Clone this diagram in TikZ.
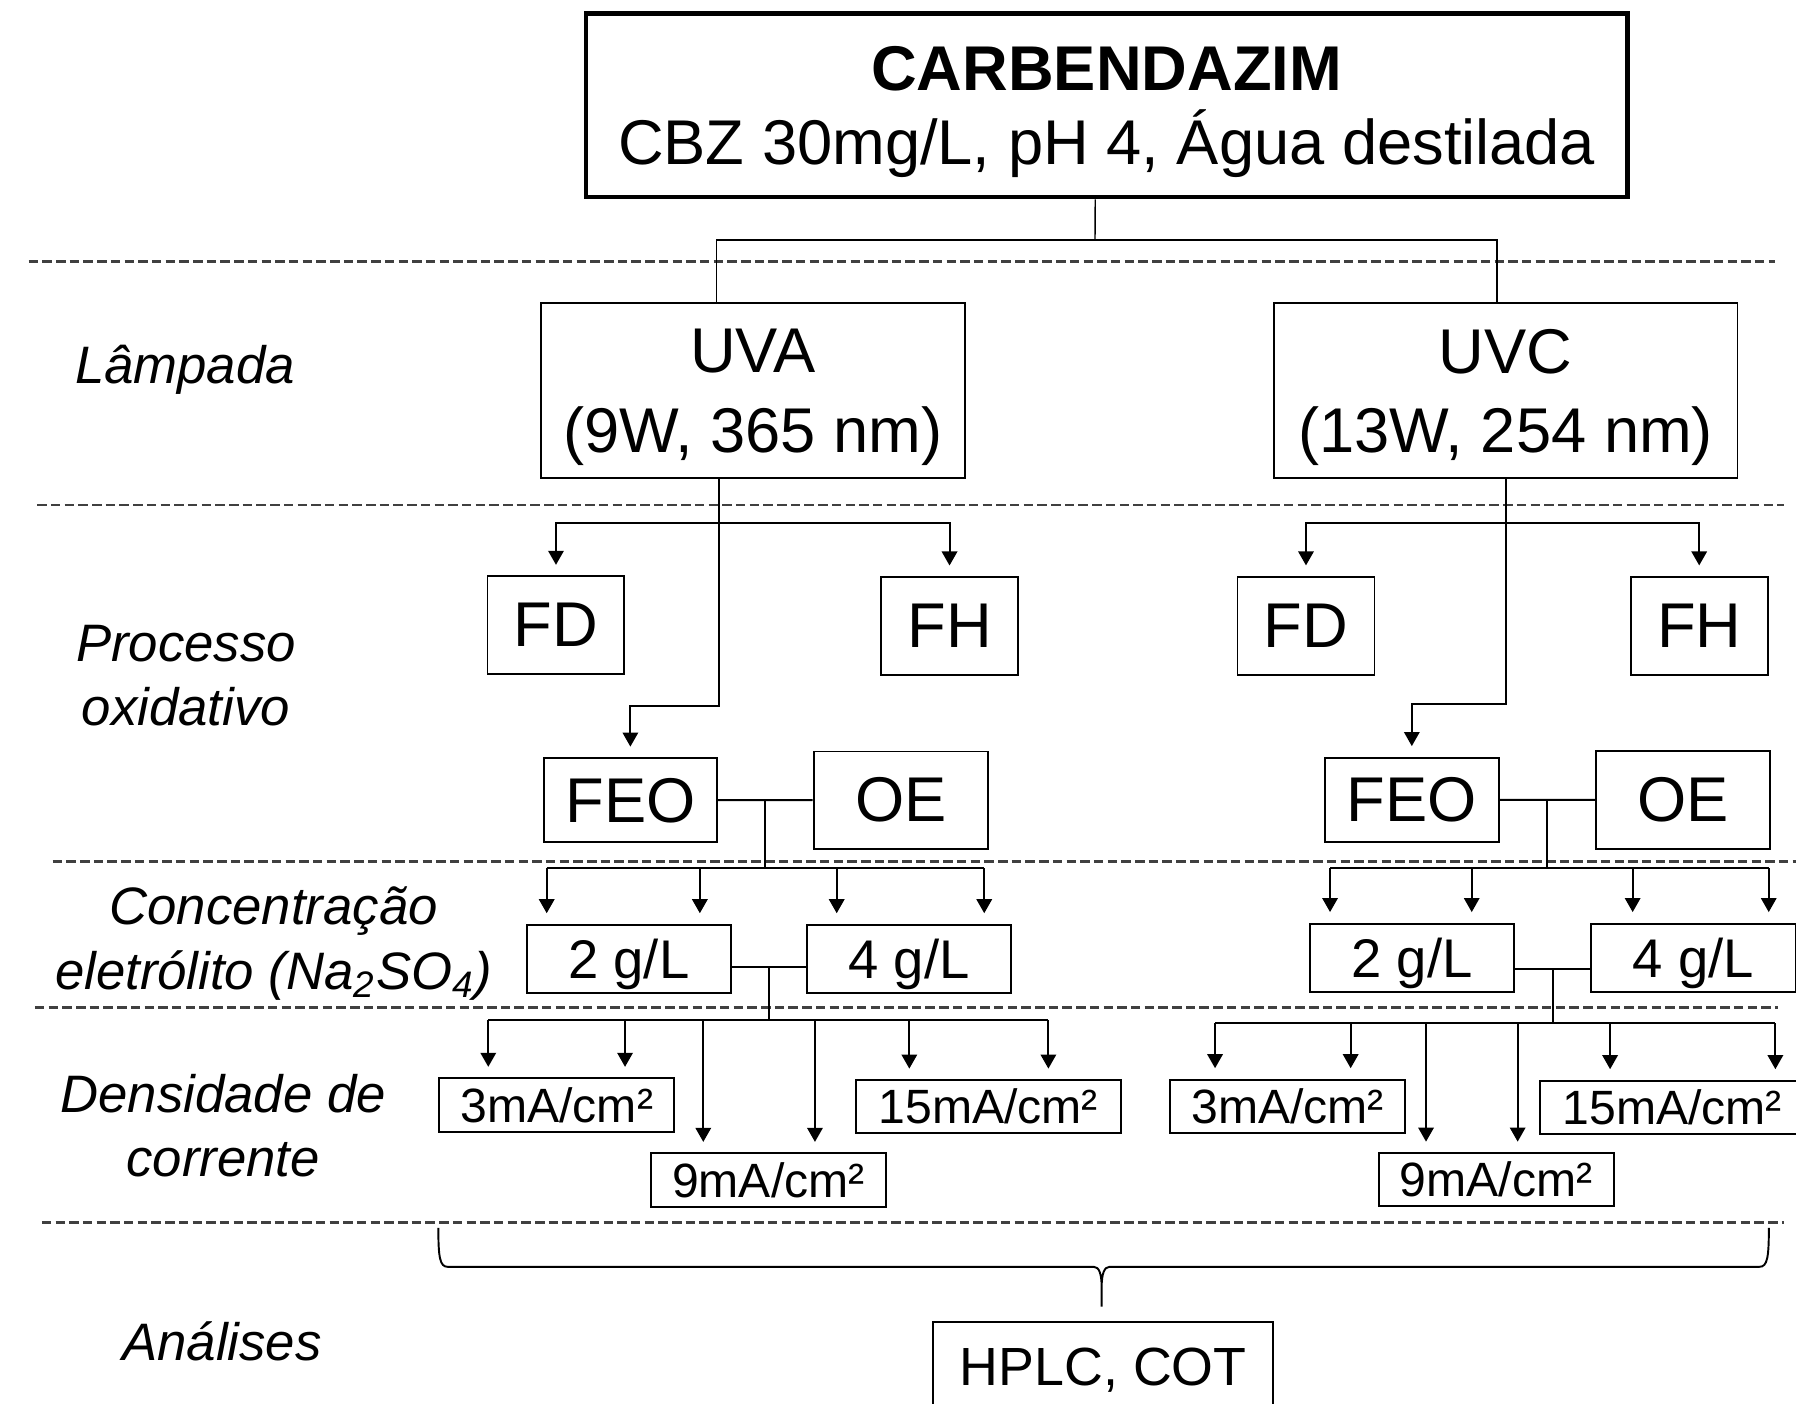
\documentclass[tikz,border=0pt]{standalone}
\usepackage{fontspec}
\setmainfont{Liberation Sans}
\usetikzlibrary{arrows.meta,calc}
\definecolor{sepgray}{HTML}{404040}
\tikzstyle{topbox}=[rectangle,draw,line width=1.2pt,align=center,minimum width=10.42cm,minimum height=1.84cm,inner sep=0pt,text depth=0pt,font=\fontsize{18}{21.1}\selectfont]
\tikzstyle{lamp}=[rectangle,draw,line width=0.55pt,align=center,minimum height=1.75cm,inner sep=0pt,text depth=0pt,font=\fontsize{18}{22.7}\selectfont]
\tikzstyle{proc}=[rectangle,draw,line width=0.55pt,minimum width=1.37cm,minimum height=0.977cm,inner sep=0pt,font=\fontsize{18}{21}\selectfont]
\tikzstyle{feo}=[proc,minimum width=1.735cm,minimum height=0.843cm]
\tikzstyle{oe}=[proc,minimum width=1.742cm,minimum height=0.972cm]
\tikzstyle{conc}=[rectangle,draw,line width=0.55pt,minimum width=2.045cm,minimum height=0.68cm,inner sep=0pt,text depth=0pt,font=\fontsize{15.5}{18}\selectfont]
\tikzstyle{cur}=[rectangle,draw,line width=0.55pt,minimum width=2.35cm,minimum height=0.533cm,inner sep=0pt,font=\fontsize{13.7}{16}\selectfont]
\tikzstyle{res}=[rectangle,draw,line width=0.55pt,minimum width=3.401cm,minimum height=0.893cm,inner sep=0pt,text depth=0pt,font=\fontsize{15.3}{18}\selectfont]
\tikzstyle{lbl}=[align=center,inner sep=0pt,font=\fontsize{15}{18.3}\selectfont\itshape]
\tikzstyle{ln}=[line width=0.55pt]
\tikzstyle{thinln}=[line width=0.4pt]
\tikzstyle{arr}=[-{Triangle[length=4pt,width=4.4pt]},line width=0.55pt,shorten >=3pt]
\tikzstyle{sep}=[sepgray,line width=0.75pt,dash pattern=on 2.7pt off 1.2pt]

\begin{document}
\begin{tikzpicture}[x=0.011454cm,y=-0.011454cm]
\useasboundingbox (0,0) rectangle (1568,1225);
\clip (0,0) rectangle (1568,1225);
% row separators
\draw[sep] (25,228.5) -- (1550,228.5);
\draw[sep] (32.5,441) -- (1557.5,441);
\draw[sep] (46,752.3) -- (1568,752.3);
\draw[sep] (30.5,879.8) -- (1552,879.8);
\draw[sep] (36.5,1067.5) -- (1557.5,1067.5);
% row labels
\node[lbl,anchor=base] (L1) at (161.5,334.7) {Lâmpada};
\node[lbl,anchor=base] (L2) at (162.3,633.4) {Processo\\oxidativo};
\node[lbl,anchor=base] (L3) at (238.9,863.5) {Concentração\\eletrólito (Na\textsubscript{2}SO\textsubscript{4})};
\node[lbl,anchor=base] (L4) at (194.8,1027.3) {Densidade de\\corrente};
\node[lbl,anchor=base] (L5) at (193.9,1187.4) {Análises};
% boxes
\node[topbox] (T) at (966.2,92) {\textbf{CARBENDAZIM}\\CBZ 30mg/L, pH 4, Água destilada};
\node[lamp,minimum width=4.241cm] (LA) at (657.25,341.2) {UVA\\(9W, 365 nm)};
\node[lamp,minimum width=4.639cm] (LC) at (1314.5,341.25) {UVC\\(13W, 254 nm)};
\node[proc] (DA) at (485.4,545.8) {FD};
\node[proc] (HA) at (829,546.4) {FH};
\node[proc] (DC) at (1140.2,546.3) {FD};
\node[proc] (HC) at (1483.5,546.3) {FH};
\node[feo] (EA) at (550.35,698.65) {FEO};
\node[oe] (OA) at (786.35,698.5) {OE};
\node[feo] (EC) at (1232.6,698.2) {FEO};
\node[oe] (OC) at (1469.35,698.4) {OE};
\node[conc] (GA2) at (549,837) {2 g/L};
\node[conc] (GA4) at (793.75,837) {4 g/L};
\node[conc] (GC2) at (1232.75,836) {2 g/L};
\node[conc] (GC4) at (1478.5,836) {4 g/L};
\node[cur] (JA3) at (486.15,964.7) {3mA/cm²};
\node[cur] (JA9) at (670.85,1030.25) {9mA/cm²};
\node[cur,minimum width=2.646cm] (JA15) at (862.9,966.25) {15mA/cm²};
\node[cur] (JC3) at (1124.1,965.9) {3mA/cm²};
\node[cur] (JC9) at (1306.25,1030) {9mA/cm²};
\node[cur,minimum width=2.646cm] (JC15) at (1460,966.75) {15mA/cm²};
\node[res] (R) at (963.15,1192.9) {HPLC, COT};
% lamps
\coordinate (j0) at (956,209.5);
\draw[thinln] ($(T.south)+(-10,0)$) -- (j0);
\draw[thinln] (j0) -| ($(LA.north)+(-31.75,0)$);
\draw[thinln] (j0) -| ($(LC.north)+(-7.5,0)$);
% processes
\coordinate (pa) at (628,457);
\coordinate (pc) at (1314.5,457);
\draw[arr] ($(LA.south)+(-29.25,0)$) -- ++(0,198.2) -| (EA);
\draw[arr] (pa) -| (DA);
\draw[arr] (pa) -| (HA);
\draw[arr] (LC.south) -- ++(0,196.5) -| (EC);
\draw[arr] (pc) -| (DC);
\draw[arr] (pc) -| (HC);
% electrolyte
\draw[ln] (EA) -- (OA);
\draw[ln] (EC) -- (OC);
\coordinate (ma) at ($(EA.east)!.5!(OA.west)$);
\coordinate (mc) at ($(EC.east)!.5!(OC.west)$);
\coordinate (ca1) at (477.3,758);
\coordinate (ca2) at (611,758);
\coordinate (ca3) at (730.5,758);
\coordinate (ca4) at (859.3,758);
\coordinate (cc1) at (1161.2,758);
\coordinate (cc2) at (1284.9,758);
\coordinate (cc3) at (1425.4,758);
\coordinate (cc4) at (1544.2,758);
\draw[ln] (ma) -- (ma |- ca1);
\draw[ln] (ca1) -- (ca4);
\draw[arr] (ca1) -- (ca1 |- GA2.north);
\draw[arr] (ca2) -- (ca2 |- GA2.north);
\draw[arr] (ca3) -- (ca3 |- GA4.north);
\draw[arr] (ca4) -- (ca4 |- GA4.north);
\draw[ln] (mc) -- (mc |- cc1);
\draw[ln] (cc1) -- (cc4);
\draw[arr] (cc1) -- (cc1 |- GC2.north);
\draw[arr] (cc2) -- (cc2 |- GC2.north);
\draw[arr] (cc3) -- (cc3 |- GC4.north);
\draw[arr] (cc4) -- (cc4 |- GC4.north);
% current density
\draw[ln] ($(GA2.east)+(0,7)$) -- ($(GA4.west)+(0,7)$);
\draw[ln] ($(GC2.east)+(0,10)$) -- ($(GC4.west)+(0,10)$);
\coordinate (ga) at ($(GA2.east)!.5!(GA4.west)+(0,7)$);
\coordinate (gc) at ($(GC2.east)!.5!(GC4.west)+(0,10)$);
\coordinate (da1) at (426.3,890.5);
\coordinate (da2) at (545.7,890.5);
\coordinate (da3) at (614,890.5);
\coordinate (da4) at (711.5,890.5);
\coordinate (da5) at (793.9,890.5);
\coordinate (da6) at (915.3,890.5);
\coordinate (dc1) at (1060.8,893.4);
\coordinate (dc2) at (1179.2,893.4);
\coordinate (dc3) at (1245,893.4);
\coordinate (dc4) at (1325,893.4);
\coordinate (dc5) at (1405.7,893.4);
\coordinate (dc6) at (1550,893.4);
\draw[ln] (ga) -- (ga |- da1);
\draw[ln] (da1) -- (da6);
\draw[arr] (da1) -- (da1 |- JA3.north);
\draw[arr] (da2) -- (da2 |- JA3.north);
\draw[arr] (da3) -- (da3 |- JA9.north);
\draw[arr] (da4) -- (da4 |- JA9.north);
\draw[arr] (da5) -- (da5 |- JA15.north);
\draw[arr] (da6) -- (da6 |- JA15.north);
\draw[ln] (gc) -- (gc |- dc1);
\draw[ln] (dc1) -- (dc6);
\draw[arr] (dc1) -- (dc1 |- JC3.north);
\draw[arr] (dc2) -- (dc2 |- JC3.north);
\draw[arr] (dc3) -- (dc3 |- JC9.north);
\draw[arr] (dc4) -- (dc4 |- JC9.north);
\draw[arr] (dc5) -- (dc5 |- JC15.north);
\draw[arr] (dc6) -- (dc6 |- JC15.north);
% analyses brace
\coordinate (b1) at (382.7,1072);
\coordinate (b2) at (1544.3,1072);
\coordinate (bt) at (961.8,1140.8);
\draw[ln] (b1) .. controls (382.7,1098) and (384,1106) .. (391,1106) -- (955,1106)
  .. controls (959.5,1106) and (961.8,1112) .. (961.8,1124) -- (bt) -- (961.8,1124)
  .. controls (961.8,1112) and (964.1,1106) .. (968.6,1106) -- (1536,1106)
  .. controls (1543,1106) and (1544.3,1098) .. (b2);
\end{tikzpicture}
\end{document}
